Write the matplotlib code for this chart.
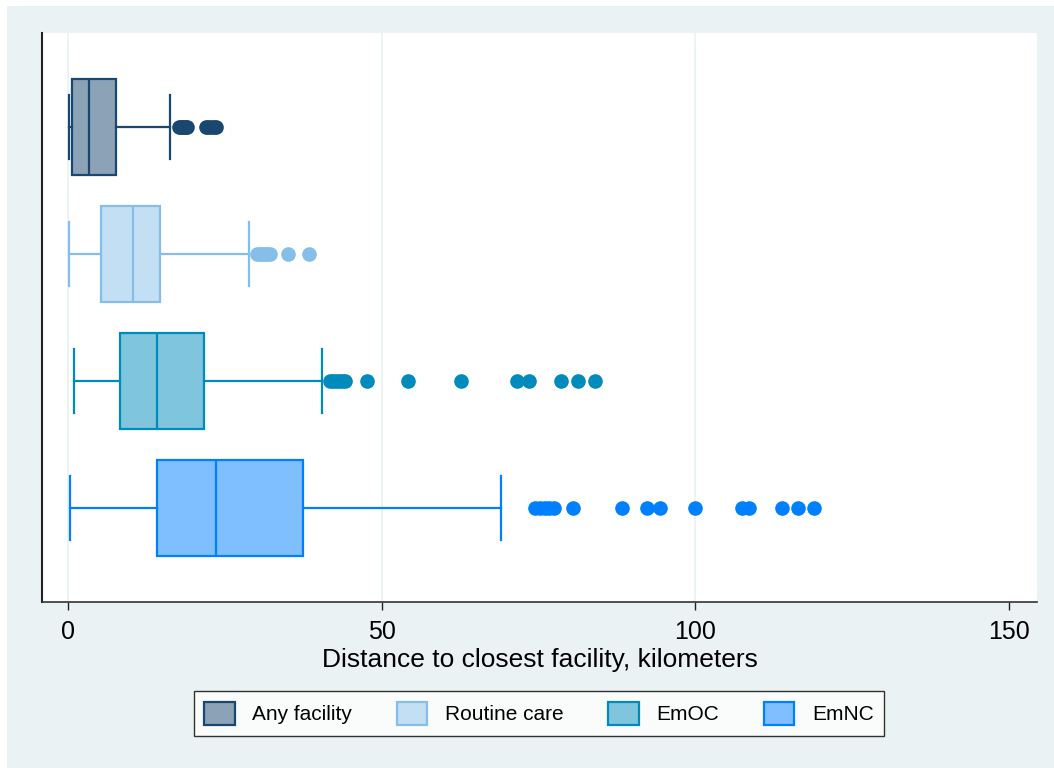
import numpy as np
import matplotlib
matplotlib.use('Agg')
import matplotlib.pyplot as plt
from matplotlib.patches import Patch, Rectangle

plt.rcParams['font.family'] = ['Liberation Sans', 'DejaVu Sans']

# Data (km)
categories = ['Any facility', 'Routine care', 'EmOC', 'EmNC']
whislo = [0.1, 0.1, 0.9, 0.2]
q1 = [0.6, 5.2, 8.3, 14.2]
median = [3.3, 10.3, 14.1, 23.6]
q3 = [7.6, 14.7, 21.6, 37.4]
whishi = [16.2, 28.8, 40.5, 69.0]
outliers_any = [17.6, 17.9, 18.2, 18.5, 18.8, 19.0, 21.9, 22.3, 22.7, 23.2, 23.6]
outliers_routine = [30.1, 30.5, 30.9, 31.3, 31.7, 32.2, 35.0, 38.4]
outliers_emoc = [41.7, 42.2, 42.7, 43.2, 43.7, 44.2, 47.7, 54.2, 62.7,
                 71.5, 73.4, 78.5, 81.3, 84.0]
outliers_emnc = [74.4, 75.2, 76.0, 76.7, 77.4, 80.5, 88.3, 92.3, 94.4, 99.9,
                 107.4, 108.6, 113.8, 116.4, 119.0]
outliers = [outliers_any, outliers_routine, outliers_emoc, outliers_emnc]

edge_colors = ['#1A476F', '#85BFE9', '#008BBC', '#0080FF']
fill_colors = ['#8CA3B7', '#C2DFF4', '#7FC5DD', '#7FBFFF']
bg = '#EAF2F3'

fig = plt.figure(figsize=(10.54, 7.68), dpi=100)
fig.patch.set_facecolor('white')
# light outer background, with a thin white strip at the left and top
fig.add_artist(Rectangle((7 / 1054, 0), 1 - 7 / 1054, 1 - 6 / 768,
                         transform=fig.transFigure, facecolor=bg,
                         edgecolor='none', zorder=-10))

ax = fig.add_axes([42 / 1054, 1 - 602 / 768, (1037 - 42) / 1054, (602 - 33) / 768])
ax.set_facecolor('white')

for i, cat in enumerate(categories):
    stats = [dict(label=cat, whislo=whislo[i], q1=q1[i], med=median[i],
                  q3=q3[i], whishi=whishi[i], fliers=outliers[i])]
    c = edge_colors[i]
    ax.bxp(stats, positions=[i + 1], widths=0.76, capwidths=0.5, vert=False,
           patch_artist=True, showfliers=True,
           boxprops=dict(facecolor=fill_colors[i], edgecolor=c, linewidth=1.6),
           medianprops=dict(color=c, linewidth=1.6),
           whiskerprops=dict(color=c, linewidth=1.6),
           capprops=dict(color=c, linewidth=1.6),
           flierprops=dict(marker='o', markerfacecolor=c, markeredgecolor=c,
                           markersize=9.5, linestyle='none'))

ax.set_xlim(-4.2, 154.5)
ax.set_ylim(4.74, 0.26)
ax.set_yticks([])
ax.set_xticks([0, 50, 100, 150])
ax.tick_params(axis='x', direction='out', length=6, width=1, pad=7,
               labelsize=18, color='#222222')
for x in [0, 50, 100]:
    ax.axvline(x, color=bg, linewidth=1.2, zorder=0)

for side in ['top', 'right']:
    ax.spines[side].set_visible(False)
ax.spines['left'].set_linewidth(1.5)
ax.spines['left'].set_color('#222222')
ax.spines['bottom'].set_linewidth(1.2)
ax.spines['bottom'].set_color('#333333')

ax.set_xlabel('Distance to closest facility, kilometers', fontsize=19, labelpad=3)

handles = [Patch(facecolor=fill_colors[i], edgecolor=edge_colors[i], linewidth=1.6,
                 label=categories[i]) for i in range(len(categories))]
leg = fig.legend(handles=handles, loc='center', bbox_to_anchor=(539 / 1054, 1 - 713.5 / 768),
                 ncol=4, fontsize=15, frameon=True, fancybox=False,
                 handlelength=1.45, handleheight=1.35, handletextpad=0.85,
                 columnspacing=2.15, borderpad=0.5)
leg.get_frame().set_edgecolor('black')
leg.get_frame().set_linewidth(1.0)

fig.savefig('out.png', dpi=100)
